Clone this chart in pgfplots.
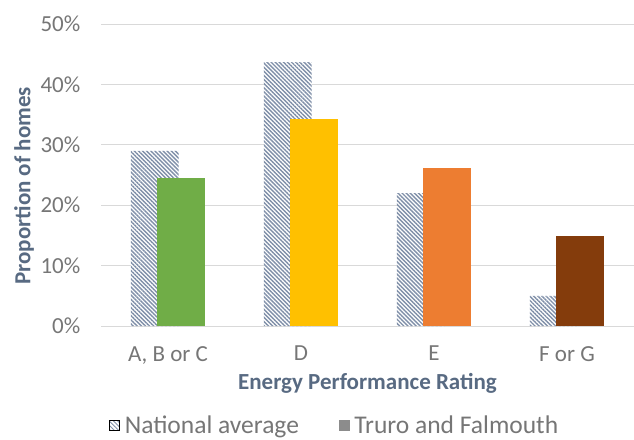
\documentclass[border=0pt]{standalone}
\usepackage{fontspec}
\setmainfont{Carlito}
\usepackage{pgfplots}
\pgfplotsset{compat=1.18}
\usetikzlibrary{patterns.meta}

\definecolor{hatch}{HTML}{7F8FA8}
\definecolor{gridc}{HTML}{D9D9D9}
\definecolor{tickc}{HTML}{767676}
\definecolor{titlec}{HTML}{586A82}
\definecolor{cgreen}{HTML}{70AD47}
\definecolor{cyellow}{HTML}{FFC000}
\definecolor{corange}{HTML}{ED7D31}
\definecolor{cbrown}{HTML}{843C0C}
\tikzset{hatched/.style={pattern={Lines[angle=-45,distance=2.9pt,line width=1.4pt]},pattern color=hatch}}

\begin{document}
\begin{tikzpicture}
\begin{axis}[
  scale only axis, width=532pt, height=302pt,
  xmin=-0.5, xmax=3.5, ymin=0, ymax=50,
  axis line style={draw=none},
  major tick length=0pt,
  ymajorgrids, grid style={gridc, line width=1pt},
  ytick={0,10,20,30,40,50},
  yticklabels={0\%,10\%,20\%,30\%,40\%,50\%},
  xtick={0,1,2,3},
  xticklabels={{A, B or C},D,E,{F or G}},
  ticklabel style={font=\fontsize{23}{27}\selectfont, text=tickc},
  yticklabel style={anchor=east, inner sep=0pt, xshift=-21pt},
  xticklabel style={anchor=north, inner sep=0pt, yshift=-20pt},
  xlabel={Energy Performance Rating},
  ylabel={Proportion of homes},
  label style={font=\bfseries\fontsize{23}{27}\selectfont, text=titlec},
  xlabel style={at={(rel axis cs:0.5,-0.1887)}, anchor=center},
  ylabel style={at={(rel axis cs:-0.1457,0.464)}, anchor=center},
  legend style={at={(0.438,-0.328)}, anchor=center, draw=none, fill=none,
    font=\fontsize{25.5}{30}\selectfont, text=tickc, legend columns=2,
    /tikz/every odd column/.append style={column sep=3pt},
    /tikz/every even column/.append style={column sep=38pt}},
  legend cell align=left,
]
\coordinate (o) at (rel axis cs:0,0);

% national average (hatched), drawn first
\addplot[ybar, bar width=0.36, bar shift=-0.1, draw=none, preaction={fill=white}, hatched, forget plot]
  coordinates {(0,29.0) (1,43.7) (2,22.0) (3,5.0)};

% Truro and Falmouth, one colour per rating
\addplot[ybar, bar width=0.36, bar shift=0.1, draw=none, fill=cgreen, forget plot] coordinates {(0,24.5)};
\addplot[ybar, bar width=0.36, bar shift=0.1, draw=none, fill=cyellow, forget plot] coordinates {(1,34.3)};
\addplot[ybar, bar width=0.36, bar shift=0.1, draw=none, fill=corange, forget plot] coordinates {(2,26.2)};
\addplot[ybar, bar width=0.36, bar shift=0.1, draw=none, fill=cbrown, forget plot] coordinates {(3,14.9)};

\addlegendimage{legend image code/.code={\path[pattern={Lines[angle=-45,distance=3pt,line width=1pt]},pattern color=hatch] (0pt,-5pt) rectangle (10pt,5pt);}}
\addlegendentry{National average}
\addlegendimage{legend image code/.code={\fill[black!45] (0pt,-5pt) rectangle (10pt,5pt);}}
\addlegendentry{Truro and Falmouth}
\end{axis}
\pgfresetboundingbox
\path (o) ++(-101.5pt,-113pt) rectangle ++(634pt,439pt);
\end{tikzpicture}
\end{document}
